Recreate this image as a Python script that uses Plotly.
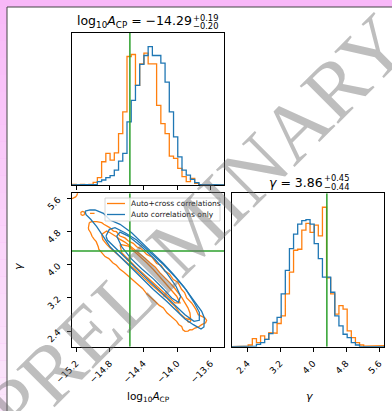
import plotly.graph_objects as go
import numpy as np

W, H = 392, 411

# ---------------- data ----------------
LOGA_RANGE = [-15.248, -13.438]
GAMMA_RANGE = [2.022, 5.728]
TRUTH_LOGA = -14.56
TRUTH_GAMMA = 4.333

LOGA_TICKS = [-15.2, -14.8, -14.4, -14.0, -13.6]
LOGA_TICKTEXT = ["−15.2", "−14.8", "−14.4", "−14.0", "−13.6"]
GAMMA_TICKS = [2.4, 3.2, 4.0, 4.8, 5.6]
GAMMA_TICKTEXT = ["2.4", "3.2", "4.0", "4.8", "5.6"]

N_BINS_LOGA = 36
N_BINS_GAMMA = 37

# 1D marginal histograms (arbitrary counts)
loga_hist_cross = [2, 0, 2, 0, 2, 8, 22, 70, 95, 75, 97, 155, 220, 387, 393, 300, 365, 397,
                   365, 365, 240, 185, 155, 87, 80, 50, 25, 10, 20, 5, 2, 0, 0, 0, 0, 0]
loga_hist_auto = [0, 0, 0, 0, 0, 2, 10, 15, 22, 28, 45, 72, 95, 190, 255, 300, 363, 390,
                  417, 390, 390, 367, 310, 220, 145, 85, 45, 30, 17, 7, 2, 0, 0, 0, 0, 0]
gamma_hist_cross = [0, 0, 0, 2, 5, 24, 12, 32, 22, 42, 40, 69, 92, 157, 222, 287, 290, 347, 367,
                    340, 362, 330, 415, 205, 157, 97, 122, 112, 47, 27, 12, 5, 2, 4, 2, 4, 3]
gamma_hist_auto = [0, 0, 0, 1, 1, 2, 7, 12, 22, 39, 72, 87, 157, 227, 292, 335, 365, 375, 378,
                   365, 307, 262, 207, 207, 162, 92, 62, 37, 27, 12, 5, 0, 0, 0, 0, 0, 0]

# 2D credible contours (log10 A_CP, gamma)
auto_outer_x = [-15.093, -15.034, -14.974, -14.875, -14.796, -14.677, -14.539, -14.420, -14.301,
                -14.162, -14.044, -13.925, -13.806, -13.707, -13.675, -13.680, -13.715, -13.806,
                -13.905, -14.004, -14.123, -14.281, -14.420, -14.559, -14.677, -14.796, -14.875,
                -14.954, -15.026, -15.081, -15.093]
auto_outer_y = [5.30, 5.325, 5.325, 5.244, 5.083, 4.978, 4.776, 4.550, 4.307, 4.032, 3.774, 3.483,
                3.160, 2.877, 2.716, 2.50, 2.449, 2.554, 2.691, 2.885, 3.119, 3.402, 3.677, 3.952,
                4.194, 4.436, 4.679, 4.921, 5.10, 5.21, 5.30]
auto_mid_x = [-14.844, -14.804, -14.737, -14.618, -14.479, -14.321, -14.162, -14.012, -13.893,
              -13.798, -13.735, -13.735, -13.798, -13.905, -14.012, -14.123, -14.250, -14.380,
              -14.519, -14.646, -14.764, -14.828, -14.844]
auto_mid_y = [4.695, 4.857, 4.897, 4.776, 4.598, 4.315, 4.008, 3.685, 3.402, 3.095, 2.853, 2.659,
              2.635, 2.796, 2.998, 3.224, 3.467, 3.709, 3.984, 4.243, 4.469, 4.598, 4.695]
auto_inner_x = [-14.717, -14.677, -14.578, -14.420, -14.261, -14.123, -14.012, -13.957, -13.984,
                -14.063, -14.162, -14.281, -14.420, -14.551, -14.657, -14.717]
auto_inner_y = [4.695, 4.792, 4.695, 4.436, 4.129, 3.806, 3.483, 3.241, 3.095, 3.200, 3.418,
                3.661, 3.903, 4.162, 4.436, 4.695]

cross_outer_x = [-15.042, -15.014, -14.954, -14.895, -14.870, -14.836, -14.800, -14.756, -14.720,
                 -14.677, -14.620, -14.578, -14.520, -14.479, -14.420, -14.360, -14.300, -14.242,
                 -14.190, -14.143, -14.090, -14.044, -13.990, -13.945, -13.910, -13.885, -13.850,
                 -13.826, -13.800, -13.774, -13.747, -13.700, -13.667, -13.648, -13.660, -13.707,
                 -13.745, -13.786, -13.820, -13.846, -13.870, -13.905, -13.930, -13.945, -13.980,
                 -14.004, -14.040, -14.083, -14.120, -14.162, -14.210, -14.261, -14.310, -14.360,
                 -14.410, -14.459, -14.520, -14.578, -14.630, -14.677, -14.720, -14.764, -14.810,
                 -14.855, -14.880, -14.895, -14.930, -14.935, -14.960, -14.986, -15.010, -15.026,
                 -15.050, -15.053, -15.042]
cross_outer_y = [5.018, 5.042, 5.042, 5.018, 4.980, 4.937, 4.900, 4.816, 4.800, 4.695, 4.650,
                 4.574, 4.520, 4.436, 4.380, 4.251, 4.190, 4.032, 3.990, 3.847, 3.780, 3.645,
                 3.580, 3.402, 3.330, 3.200, 3.140, 3.079, 3.000, 2.917, 2.796, 2.740, 2.716,
                 2.659, 2.600, 2.554, 2.500, 2.473, 2.430, 2.433, 2.400, 2.392, 2.430, 2.513,
                 2.560, 2.635, 2.700, 2.796, 2.840, 2.958, 3.020, 3.119, 3.220, 3.300, 3.430,
                 3.520, 3.640, 3.740, 3.820, 3.890, 3.990, 4.050, 4.150, 4.200, 4.270, 4.310,
                 4.380, 4.430, 4.560, 4.620, 4.690, 4.776, 4.850, 4.897, 5.018]
cross_mid_x = [-14.895, -14.836, -14.800, -14.756, -14.720, -14.677, -14.620, -14.558, -14.500,
               -14.440, -14.380, -14.321, -14.260, -14.202, -14.140, -14.083, -14.030, -13.984,
               -13.940, -13.905, -13.870, -13.846, -13.838, -13.870, -13.905, -13.964, -14.024,
               -14.070, -14.123, -14.180, -14.242, -14.310, -14.380, -14.440, -14.499, -14.560,
               -14.618, -14.680, -14.737, -14.790, -14.836, -14.883, -14.895]
cross_mid_y = [4.735, 4.816, 4.780, 4.735, 4.680, 4.614, 4.550, 4.453, 4.360, 4.251, 4.160,
               4.049, 3.950, 3.806, 3.690, 3.564, 3.440, 3.321, 3.200, 3.079, 2.960, 2.836,
               2.675, 2.690, 2.715, 2.820, 2.998, 3.080, 3.200, 3.300, 3.402, 3.530, 3.661,
               3.780, 3.887, 3.990, 4.089, 4.190, 4.291, 4.400, 4.493, 4.614, 4.735]
cross_inner_x = [-14.677, -14.578, -14.510, -14.440, -14.360, -14.281, -14.200, -14.123, -14.060,
                 -14.004, -13.964, -14.024, -14.070, -14.123, -14.190, -14.261, -14.340, -14.420,
                 -14.490, -14.558, -14.610, -14.657, -14.677]
cross_inner_y = [4.493, 4.453, 4.330, 4.210, 4.050, 3.887, 3.700, 3.524, 3.380, 3.241, 3.079,
                 3.079, 3.170, 3.257, 3.390, 3.524, 3.670, 3.806, 3.950, 4.089, 4.190, 4.291, 4.493]
cross_blob1_x = [-15.145, -15.138, -15.121, -15.104, -15.097, -15.104, -15.121, -15.138, -15.145]
cross_blob1_y = [5.244, 5.278, 5.292, 5.278, 5.244, 5.210, 5.196, 5.210, 5.244]
cross_dash_x = [-15.034, -14.980]
cross_dash_y = [5.244, 5.244]
cross_corner_x = [-15.248, -15.225, -15.205, -15.190, -15.180]
cross_corner_y = [5.600, 5.615, 5.640, 5.680, 5.745]
cross_blob2_x = [-13.880, -13.870, -13.857, -13.844, -13.836, -13.844, -13.857, -13.870, -13.880]
cross_blob2_y = [2.657, 2.690, 2.700, 2.690, 2.657, 2.624, 2.614, 2.624, 2.657]

ORANGE = "#ff7f0e"
BLUE = "#1f77b4"
GREEN = "#2ca02c"
LW = 1.3


def step_xy(edges, counts):
    xs, ys = [edges[0]], [0]
    for i, c in enumerate(counts):
        xs += [edges[i], edges[i + 1]]
        ys += [c, c]
    xs.append(edges[-1])
    ys.append(0)
    return xs, ys


def px(x):
    return x / W


def py(y):
    return 1 - y / H


loga_edges = np.linspace(LOGA_RANGE[0], LOGA_RANGE[1], N_BINS_LOGA + 1)
gamma_edges = np.linspace(GAMMA_RANGE[0], GAMMA_RANGE[1], N_BINS_GAMMA + 1)

fig = go.Figure()

# ---- top histogram ----
top_max = 1.1 * max(max(loga_hist_cross), max(loga_hist_auto))
for counts, col in [(loga_hist_cross, ORANGE), (loga_hist_auto, BLUE)]:
    sx, sy = step_xy(loga_edges, counts)
    fig.add_trace(go.Scatter(x=sx, y=sy, mode="lines", line=dict(color=col, width=LW),
                             xaxis="x", yaxis="y", showlegend=False, hoverinfo="skip"))
fig.add_trace(go.Scatter(x=[TRUTH_LOGA, TRUTH_LOGA], y=[0, top_max], mode="lines",
                         line=dict(color=GREEN, width=1.5), xaxis="x", yaxis="y",
                         showlegend=False, hoverinfo="skip"))

# ---- 2D panel ----
cross_lines = [(cross_outer_x, cross_outer_y), (cross_mid_x, cross_mid_y),
               (cross_inner_x, cross_inner_y), (cross_blob1_x, cross_blob1_y),
               (cross_dash_x, cross_dash_y), (cross_corner_x, cross_corner_y),
               (cross_blob2_x, cross_blob2_y)]
auto_lines = [(auto_outer_x, auto_outer_y), (auto_mid_x, auto_mid_y),
              (auto_inner_x, auto_inner_y)]
for (cx, cy) in cross_lines:
    fig.add_trace(go.Scatter(x=cx, y=cy, mode="lines", line=dict(color=ORANGE, width=LW),
                             xaxis="x2", yaxis="y2", showlegend=False, hoverinfo="skip"))
for (cx, cy) in auto_lines:
    fig.add_trace(go.Scatter(x=cx, y=cy, mode="lines", line=dict(color=BLUE, width=LW),
                             xaxis="x2", yaxis="y2", showlegend=False, hoverinfo="skip"))
fig.add_trace(go.Scatter(x=[TRUTH_LOGA, TRUTH_LOGA], y=GAMMA_RANGE, mode="lines",
                         line=dict(color=GREEN, width=1.5), xaxis="x2", yaxis="y2",
                         showlegend=False, hoverinfo="skip"))
fig.add_trace(go.Scatter(x=LOGA_RANGE, y=[TRUTH_GAMMA, TRUTH_GAMMA], mode="lines",
                         line=dict(color=GREEN, width=1.5), xaxis="x2", yaxis="y2",
                         showlegend=False, hoverinfo="skip"))

# ---- right histogram ----
right_max = 1.1 * max(max(gamma_hist_cross), max(gamma_hist_auto))
for counts, col in [(gamma_hist_cross, ORANGE), (gamma_hist_auto, BLUE)]:
    sx, sy = step_xy(gamma_edges, counts)
    fig.add_trace(go.Scatter(x=sx, y=sy, mode="lines", line=dict(color=col, width=LW),
                             xaxis="x3", yaxis="y3", showlegend=False, hoverinfo="skip"))
fig.add_trace(go.Scatter(x=[TRUTH_GAMMA, TRUTH_GAMMA], y=[0, right_max], mode="lines",
                         line=dict(color=GREEN, width=1.5), xaxis="x3", yaxis="y3",
                         showlegend=False, hoverinfo="skip"))

TICKFONT = dict(family="DejaVu Sans", size=9, color="#000")
base_axis = dict(showline=True, mirror=True, linecolor="#000", linewidth=1.2,
                 showgrid=False, zeroline=False, ticks="outside", ticklen=4,
                 tickwidth=1, tickcolor="#000", tickfont=TICKFONT, automargin=False)

xdom_left = [px(72), px(224.3)]
xdom_right = [px(231.7), px(384.3)]
ydom_top = [py(185), py(32.7)]
ydom_bot = [py(346.7), py(193.3)]

fig.update_layout(
    width=W, height=H,
    margin=dict(l=0, r=0, t=0, b=0, pad=0, autoexpand=False),
    paper_bgcolor="#f8b8f8",
    plot_bgcolor="rgba(0,0,0,0)",
    font=dict(family="DejaVu Sans", color="#000"),
    showlegend=False,
    xaxis=dict(base_axis, domain=xdom_left, anchor="y", range=LOGA_RANGE,
               tickvals=LOGA_TICKS, showticklabels=False),
    yaxis=dict(base_axis, domain=ydom_top, anchor="x", range=[0, top_max],
               ticks="", showticklabels=False),
    xaxis2=dict(base_axis, domain=xdom_left, anchor="y2", range=LOGA_RANGE,
                tickvals=LOGA_TICKS, ticktext=LOGA_TICKTEXT, tickangle=-45,
                ticklabelstandoff=3),
    yaxis2=dict(base_axis, domain=ydom_bot, anchor="x2", range=GAMMA_RANGE,
                tickvals=GAMMA_TICKS, ticktext=GAMMA_TICKTEXT, tickangle=-45,
                ticklabelstandoff=7),
    xaxis3=dict(base_axis, domain=xdom_right, anchor="y3", range=GAMMA_RANGE,
                tickvals=GAMMA_TICKS, ticktext=GAMMA_TICKTEXT, tickangle=-45,
                ticklabelstandoff=3),
    yaxis3=dict(base_axis, domain=ydom_bot, anchor="x3", range=[0, right_max],
                ticks="", showticklabels=False),
)

shapes = []
# left pink strip gradient
n_strip = 24
for i in range(n_strip):
    t = i / (n_strip - 1)
    r = 248 + round(3 * t)
    g = 186 + round(44 * t)
    shapes.append(dict(type="rect", xref="paper", yref="paper", layer="below",
                       x0=0, x1=px(7), y0=py(7 + i * 404 / n_strip),
                       y1=py(7 + (i + 1) * 404 / n_strip),
                       fillcolor=f"rgb({r},{g},{r})", line=dict(width=0)))
# white frame
shapes.append(dict(type="rect", xref="paper", yref="paper", layer="below",
                   x0=px(7), x1=1.02, y0=-0.02, y1=py(7),
                   fillcolor="white", line=dict(color="#444", width=1)))
# legend box
shapes.append(dict(type="rect", xref="paper", yref="paper", layer="above",
                   x0=px(105), x1=px(220), y0=py(221), y1=py(198),
                   fillcolor="rgba(255,255,255,0.8)", line=dict(color="#cccccc", width=0.8)))
shapes.append(dict(type="line", xref="paper", yref="paper", layer="above",
                   x0=px(107), x1=px(125), y0=py(203.5), y1=py(203.5),
                   line=dict(color=ORANGE, width=LW)))
shapes.append(dict(type="line", xref="paper", yref="paper", layer="above",
                   x0=px(107), x1=px(125), y0=py(214.5), y1=py(214.5),
                   line=dict(color=BLUE, width=LW)))
fig.update_layout(shapes=shapes)

ann = []
# titles
ann.append(dict(text="log<sub>10</sub><i>A</i><sub>CP</sub> = −14.29", x=px(75), y=py(21),
                xanchor="left", yanchor="middle", font=dict(size=12.5)))
ann.append(dict(text="+0.19", x=px(191), y=py(18), xanchor="left", yanchor="middle",
                font=dict(size=8.3)))
ann.append(dict(text="−0.20", x=px(191), y=py(26.5), xanchor="left", yanchor="middle",
                font=dict(size=8.3)))
ann.append(dict(text="<i>γ</i> = 3.86", x=px(267), y=py(182), xanchor="left",
                yanchor="middle", font=dict(size=12.5)))
ann.append(dict(text="+0.45", x=px(322), y=py(177.5), xanchor="left", yanchor="middle",
                font=dict(size=8.3)))
ann.append(dict(text="−0.44", x=px(322), y=py(187), xanchor="left", yanchor="middle",
                font=dict(size=8.3)))
# axis labels
ann.append(dict(text="log<sub>10</sub><i>A</i><sub>CP</sub>", x=px(148), y=py(397),
                xanchor="center", yanchor="middle", font=dict(size=10.5)))
ann.append(dict(text="<i>γ</i>", x=px(309), y=py(396), xanchor="center", yanchor="middle",
                font=dict(size=11)))
ann.append(dict(text="<i>γ</i>", x=px(18), y=py(267), xanchor="center", yanchor="middle",
                textangle=-90, font=dict(size=11)))
# legend text
ann.append(dict(text="Auto+cross correlations", x=px(129), y=py(203.5), xanchor="left",
                yanchor="middle", font=dict(size=7.5, color="#222")))
ann.append(dict(text="Auto correlations only", x=px(129), y=py(214.5), xanchor="left",
                yanchor="middle", font=dict(size=7.5, color="#222")))
# watermark
ann.append(dict(text="PRELIMINARY", x=px(197), y=py(225), xanchor="center", yanchor="middle",
                textangle=-45,
                font=dict(family="Liberation Serif, Times New Roman, serif", size=82,
                          color="rgba(110,110,110,0.45)")))
for a in ann:
    a.update(xref="paper", yref="paper", showarrow=False)
fig.update_layout(annotations=ann)

fig.write_html("out.html")
